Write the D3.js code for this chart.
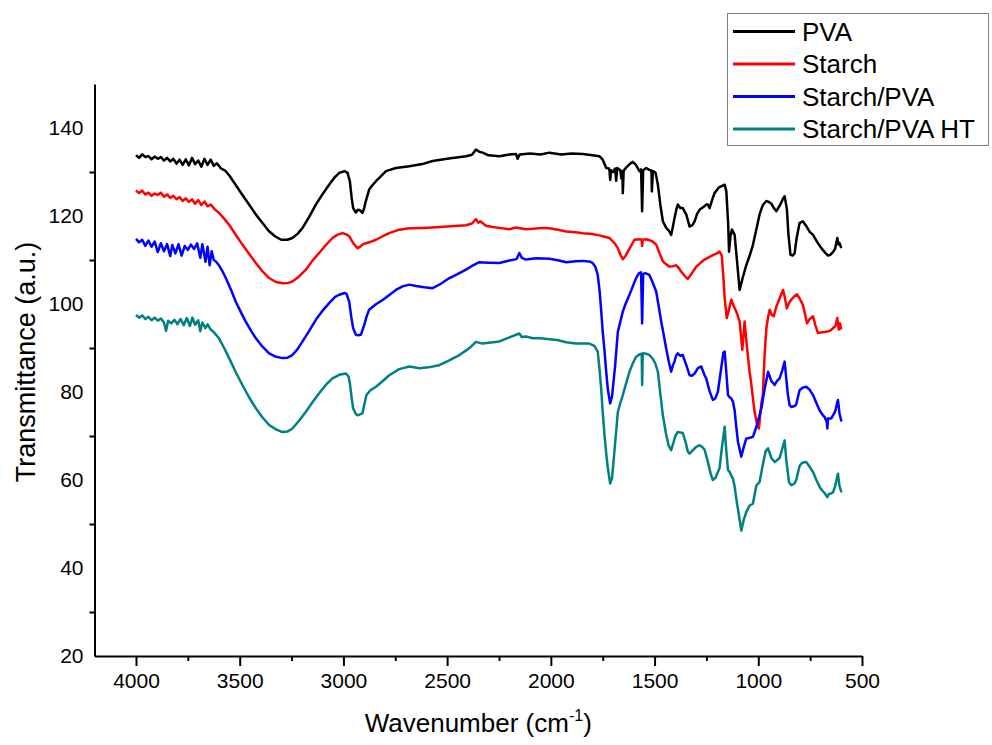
<!DOCTYPE html>
<html>
<head>
<meta charset="utf-8">
<script src="https://cdn.jsdelivr.net/npm/d3@7"></script>
<style>
  html, body { margin: 0; padding: 0; background: #fff; }
  svg { display: block; }
  text { font-family: "Liberation Sans", Arial, sans-serif; fill: #000; }
</style>
</head>
<body>
<svg id="chart" width="992" height="745"></svg>
<script>
// ---------------- DATA ----------------
const seriesNames = ["PVA", "Starch", "Starch/PVA", "Starch/PVA HT"];
const seriesColors = ["#000000", "#ff0000", "#0000ff", "#008080"];
const xMajorTicks = [4000, 3500, 3000, 2500, 2000, 1500, 1000, 500];
const xMinorTicks = [3750, 3250, 2750, 2250, 1750, 1250, 750];
const yLabelTicks = [20, 40, 60, 80, 100, 120, 140];
const yMinorTicks = [30, 50, 70, 90, 110, 130];

// [wavenumber (cm-1), transmittance (a.u.)]
const pva = [
[4000,133.8],[3985,133.2],[3970,134.0],[3955,133.4],[3940,133.6],[3925,132.9],[3910,133.5],[3895,133.0],
[3880,133.4],[3865,132.6],[3850,133.2],[3835,132.4],[3820,133.0],[3805,131.9],[3790,132.8],[3775,131.6],
[3760,132.9],[3745,131.5],[3730,133.2],[3715,131.8],[3700,132.6],[3685,131.2],[3670,133.0],[3655,131.6],
[3640,132.8],[3625,131.4],[3610,132.0],[3590,130.8],[3570,130.3],[3550,129.2],[3520,127.1],[3490,125.0],
[3455,122.6],[3420,120.2],[3390,118.4],[3360,116.6],[3330,115.4],[3300,114.6],[3270,114.6],[3246,115.0],
[3220,116.0],[3197,117.3],[3165,119.8],[3133,122.6],[3100,125.0],[3069,127.1],[3040,128.9],[3020,129.8],
[2995,130.2],[2980,129.8],[2969,127.9],[2960,124.0],[2953,121.8],[2940,120.8],[2930,121.4],[2920,121.3],
[2908,120.7],[2900,121.8],[2892,123.4],[2876,126.0],[2860,127.0],[2843,127.9],[2820,129.0],[2795,130.2],
[2747,130.9],[2682,131.3],[2620,131.8],[2570,132.5],[2500,133.0],[2409,133.6],[2380,133.9],[2361,135.1],
[2345,134.6],[2329,134.4],[2300,133.8],[2248,133.6],[2200,134.0],[2168,134.1],[2160,133.0],[2150,134.0],
[2100,134.2],[2050,134.0],[2007,134.4],[1950,134.0],[1900,134.2],[1846,134.1],[1800,133.8],[1766,133.6],
[1750,132.8],[1733,130.9],[1720,130.8],[1717,130.2],[1714,128.2],[1710,130.4],[1700,130.0],[1690,130.8],
[1685,128.0],[1680,130.9],[1665,130.4],[1660,128.5],[1655,130.2],[1653,125.2],[1649,130.3],[1637,131.0],
[1620,131.8],[1605,132.3],[1590,131.6],[1573,130.2],[1565,130.6],[1560,121.1],[1555,130.4],[1540,130.9],
[1525,130.5],[1515,130.3],[1513,125.6],[1508,130.2],[1495,129.8],[1484,127.1],[1472,122.5],[1460,118.8],
[1444,117.3],[1430,116.6],[1420,115.7],[1412,117.5],[1404,119.5],[1395,121.5],[1388,122.6],[1376,121.8],
[1364,121.8],[1347,120.3],[1331,117.6],[1318,117.9],[1307,118.8],[1295,120.5],[1283,121.4],[1260,122.2],
[1251,122.6],[1243,122.6],[1235,121.8],[1220,124.0],[1211,125.2],[1190,126.5],[1162,127.1],[1154,125.6],
[1145,118.0],[1141,111.9],[1134,115.5],[1127,116.9],[1114,115.7],[1103,110.0],[1090,103.2],[1075,106.0],
[1058,108.8],[1040,111.2],[1026,113.4],[1010,116.8],[994,120.3],[978,122.5],[961,123.4],[950,123.2],
[937,122.8],[925,121.8],[913,121.1],[895,122.5],[880,124.0],[873,124.5],[862,121.5],[855,116.0],
[845,111.2],[835,111.0],[825,111.5],[815,115.0],[801,118.4],[785,118.8],[770,117.8],[752,116.4],
[736,115.7],[715,114.0],[696,112.7],[680,111.8],[664,111.0],[652,111.2],[640,111.8],[630,112.5],
[619,115.0],[613,113.5],[608,113.8],[600,112.7]
];

const starch = [
[4000,125.8],[3985,125.2],[3970,125.8],[3955,124.9],[3940,125.3],[3925,124.6],[3910,125.1],[3895,124.8],
[3880,125.3],[3865,124.4],[3850,124.9],[3835,124.1],[3820,124.6],[3805,123.8],[3790,124.3],[3775,123.4],
[3760,124.0],[3745,123.2],[3730,123.8],[3715,122.8],[3700,123.6],[3685,122.5],[3670,123.3],[3655,122.2],
[3640,122.6],[3620,121.5],[3600,120.7],[3575,119.4],[3551,118.0],[3520,115.8],[3487,113.5],[3455,111.4],
[3422,109.3],[3390,107.4],[3358,105.9],[3325,105.0],[3294,104.7],[3265,104.8],[3246,105.1],[3215,106.2],
[3181,107.8],[3150,109.8],[3117,111.6],[3085,113.4],[3053,115.0],[3030,115.7],[3004,116.1],[2985,115.8],
[2972,115.4],[2955,114.0],[2940,113.1],[2932,112.7],[2920,113.0],[2905,113.6],[2892,113.8],[2870,114.1],
[2843,114.6],[2810,115.4],[2779,116.1],[2731,116.9],[2682,117.2],[2620,117.3],[2570,117.4],[2500,117.6],
[2409,117.9],[2380,118.3],[2361,119.3],[2350,118.5],[2340,118.8],[2313,117.8],[2280,117.5],[2248,117.3],
[2200,117.0],[2168,117.4],[2120,117.0],[2087,117.1],[2040,117.3],[2007,117.2],[1960,116.8],[1926,116.5],
[1880,116.3],[1846,116.1],[1800,115.9],[1766,115.6],[1740,115.3],[1717,115.0],[1701,114.2],[1690,113.6],
[1677,112.7],[1665,111.2],[1653,110.2],[1640,110.9],[1629,111.9],[1610,113.5],[1597,114.6],[1570,114.7],
[1562,114.6],[1560,113.2],[1557,114.6],[1540,114.7],[1525,114.5],[1510,114.2],[1492,113.5],[1476,111.5],
[1460,109.7],[1444,109.0],[1428,108.5],[1410,108.6],[1396,108.8],[1385,108.3],[1372,107.4],[1355,106.4],
[1340,105.7],[1320,107.0],[1299,108.5],[1280,109.3],[1259,110.1],[1243,110.5],[1219,111.1],[1200,111.5],
[1187,111.9],[1176,111.0],[1168,106.0],[1162,101.3],[1152,96.8],[1140,99.0],[1130,101.0],[1118,99.5],
[1106,98.3],[1090,96.0],[1077,89.6],[1066,96.0],[1054,89.9],[1042,84.6],[1035,82.3],[1018,75.5],
[1005,72.5],[997,71.7],[985,77.5],[978,79.3],[970,88.0],[961,94.5],[953,97.0],[945,98.7],
[935,97.5],[926,97.2],[912,99.5],[897,101.3],[881,103.2],[872,101.5],[862,99.0],[852,100.2],
[841,101.0],[825,101.8],[813,102.2],[800,101.2],[785,99.8],[775,97.8],[765,95.6],[752,96.6],
[736,97.2],[725,95.2],[712,93.4],[690,93.6],[671,93.7],[655,93.9],[640,94.5],[628,95.0],
[619,96.8],[612,94.2],[606,95.6],[600,94.2]
];

const starchPva = [
[4000,114.8],[3985,114.0],[3970,114.6],[3955,113.2],[3940,114.4],[3925,113.0],[3910,114.2],[3895,111.8],
[3880,113.8],[3865,112.0],[3850,113.6],[3835,110.9],[3825,113.4],[3810,111.5],[3795,113.6],[3780,111.0],
[3765,113.2],[3750,112.3],[3735,113.5],[3720,112.5],[3705,113.8],[3690,110.5],[3680,113.6],[3665,109.6],
[3655,113.0],[3645,108.8],[3635,112.0],[3625,110.0],[3616,109.7],[3600,108.8],[3585,107.6],[3567,105.9],
[3540,103.0],[3519,100.5],[3495,98.2],[3471,96.0],[3445,93.9],[3422,92.2],[3390,90.3],[3358,88.8],
[3325,88.0],[3294,87.7],[3270,87.8],[3246,88.4],[3220,89.8],[3197,91.5],[3165,93.9],[3133,96.4],
[3100,98.5],[3069,100.2],[3040,101.6],[3020,102.1],[2995,102.5],[2985,102.3],[2972,100.5],[2962,97.0],
[2953,94.5],[2940,93.0],[2928,92.9],[2916,93.0],[2900,95.2],[2888,97.2],[2876,98.7],[2845,99.9],
[2811,100.9],[2780,102.0],[2747,103.2],[2715,104.0],[2682,104.4],[2650,104.1],[2610,103.8],[2570,103.6],
[2530,104.6],[2489,105.9],[2450,106.8],[2409,107.8],[2375,108.8],[2345,109.5],[2300,109.4],[2248,109.3],
[2200,109.9],[2165,110.2],[2152,111.6],[2140,110.5],[2120,110.1],[2070,110.4],[2007,110.3],[1960,109.9],
[1926,109.5],[1880,109.7],[1846,109.8],[1810,109.6],[1798,109.3],[1785,108.4],[1774,106.6],[1765,103.0],
[1757,98.3],[1750,93.7],[1741,89.2],[1733,84.5],[1725,80.5],[1714,77.4],[1705,79.0],[1698,82.3],
[1690,86.0],[1677,93.7],[1669,95.2],[1653,98.3],[1640,100.0],[1621,102.1],[1605,104.0],[1589,105.9],
[1575,107.0],[1565,107.2],[1560,95.6],[1555,106.8],[1545,107.0],[1525,106.6],[1510,105.0],[1492,102.8],
[1480,99.5],[1468,96.0],[1456,93.0],[1444,89.9],[1432,87.0],[1420,84.6],[1412,86.0],[1404,86.9],
[1396,88.3],[1388,88.8],[1376,88.2],[1364,88.4],[1347,86.1],[1331,83.8],[1320,83.7],[1307,84.2],
[1290,85.5],[1275,85.8],[1259,83.8],[1251,83.1],[1235,80.2],[1219,78.2],[1207,78.6],[1195,80.0],
[1180,85.0],[1168,89.0],[1162,89.2],[1155,85.0],[1146,79.3],[1138,78.8],[1130,78.5],[1122,77.8],
[1114,75.8],[1106,72.0],[1098,68.7],[1082,65.3],[1070,67.5],[1058,69.4],[1040,69.6],[1026,69.8],
[1009,72.1],[995,74.5],[985,76.3],[970,80.5],[953,84.6],[937,82.5],[921,81.6],[910,82.5],
[897,83.1],[885,84.8],[873,86.9],[865,83.0],[857,79.3],[849,77.0],[841,76.6],[825,76.8],
[817,77.2],[801,80.4],[785,81.0],[769,81.2],[752,80.5],[736,79.3],[720,77.5],[704,75.8],
[690,74.8],[680,74.3],[670,73.2],[667,71.7],[664,74.0],[648,74.0],[630,75.5],[616,78.2],
[608,75.0],[599,73.3]
];

const starchPvaHT = [
[4000,97.5],[3985,96.9],[3970,97.4],[3955,96.6],[3940,97.1],[3925,96.3],[3910,96.9],[3895,96.2],
[3880,96.7],[3865,95.8],[3855,93.9],[3845,96.2],[3830,95.6],[3815,96.4],[3800,95.4],[3785,96.6],
[3770,95.2],[3755,96.8],[3740,95.0],[3728,96.9],[3715,95.3],[3700,96.3],[3690,93.8],[3680,95.8],
[3665,94.5],[3655,95.4],[3640,94.2],[3625,93.6],[3600,92.2],[3575,90.0],[3551,87.7],[3520,84.6],
[3487,81.6],[3455,78.8],[3422,76.3],[3390,74.2],[3358,72.5],[3325,71.5],[3294,70.9],[3270,71.0],
[3246,71.7],[3215,73.4],[3181,75.5],[3150,77.6],[3117,79.7],[3085,81.6],[3053,83.1],[3020,83.9],
[2988,84.2],[2975,83.5],[2969,82.0],[2960,78.5],[2953,76.3],[2940,75.0],[2932,74.7],[2920,74.9],
[2908,75.2],[2900,77.0],[2889,79.3],[2870,80.4],[2843,81.2],[2810,82.5],[2779,83.8],[2731,85.2],
[2682,85.8],[2634,85.4],[2590,85.6],[2538,86.1],[2490,87.2],[2441,88.4],[2410,89.4],[2385,90.3],
[2361,91.4],[2330,91.0],[2300,91.2],[2248,91.5],[2200,92.4],[2152,93.3],[2140,92.5],[2120,92.6],
[2087,92.2],[2050,92.2],[2007,92.0],[1970,91.8],[1926,91.3],[1880,91.0],[1814,91.0],[1790,90.5],
[1774,89.2],[1765,85.0],[1757,80.5],[1750,75.5],[1741,70.0],[1733,66.0],[1725,62.6],[1714,59.2],
[1705,60.5],[1698,64.1],[1688,69.5],[1677,75.5],[1665,77.5],[1653,79.3],[1640,81.5],[1621,84.6],
[1605,86.5],[1589,88.0],[1570,88.6],[1562,88.7],[1560,81.6],[1557,88.8],[1540,88.7],[1525,88.4],
[1508,87.5],[1495,86.3],[1484,84.6],[1472,79.5],[1460,74.7],[1445,70.5],[1432,67.8],[1420,66.8],
[1410,68.3],[1400,70.0],[1388,70.9],[1376,70.8],[1364,70.7],[1350,68.5],[1340,66.5],[1331,66.0],
[1315,66.8],[1300,67.5],[1283,67.9],[1270,67.5],[1259,66.9],[1245,64.5],[1230,61.5],[1219,60.0],
[1205,60.6],[1195,61.8],[1187,62.6],[1175,67.5],[1162,72.1],[1155,67.0],[1146,62.3],[1138,61.8],
[1130,61.0],[1122,60.3],[1114,58.5],[1106,55.8],[1095,52.5],[1082,48.5],[1070,51.0],[1058,52.7],
[1042,54.2],[1026,54.6],[1009,58.8],[994,59.5],[980,63.0],[965,66.5],[953,67.2],[937,65.0],
[921,64.1],[910,64.5],[897,65.0],[885,67.0],[873,69.0],[865,64.5],[852,59.5],[840,58.8],
[825,59.2],[817,60.0],[801,63.2],[793,63.7],[785,64.0],[769,64.1],[752,63.0],[736,61.8],
[720,60.0],[704,58.4],[690,57.5],[680,57.0],[667,56.1],[660,56.8],[648,57.0],[640,57.2],
[630,58.5],[616,61.4],[608,58.5],[599,57.2]
];

const seriesData = [pva, starch, starchPva, starchPvaHT];

// ---------------- DRAW ----------------
const svg = d3.select("#chart");
const plotLeft = 94.5, plotRight = 862, plotTop = 84, plotBottom = 656;

const x = d3.scaleLinear().domain([4200, 500]).range([plotLeft, plotRight]);
const y = d3.scaleLinear().domain([20, 150]).range([plotBottom, plotTop]);

const line = d3.line().x(d => x(d[0])).y(d => y(d[1]));

// curves
const curves = svg.append("g");
seriesData.forEach((s, i) => {
  curves.append("path")
    .datum(s)
    .attr("d", line)
    .attr("fill", "none")
    .attr("stroke", seriesColors[i])
    .attr("stroke-width", 2.5)
    .attr("stroke-linejoin", "round");
});

// x axis
const xAxisG = svg.append("g").attr("transform", `translate(0,${plotBottom})`);
xAxisG.call(d3.axisBottom(x).tickValues(xMajorTicks).tickSize(10).tickSizeOuter(0).tickPadding(6)
  .tickFormat(d3.format("d")));
const xMinorG = svg.append("g").attr("transform", `translate(0,${plotBottom})`);
xMinorG.call(d3.axisBottom(x).tickValues(xMinorTicks).tickSize(5).tickSizeOuter(0).tickFormat(""));
xMinorG.select(".domain").remove();

// y axis
const yAxisG = svg.append("g").attr("transform", `translate(${plotLeft},0)`);
yAxisG.call(d3.axisLeft(y).tickValues(yLabelTicks).tickSize(0).tickSizeOuter(0).tickPadding(11)
  .tickFormat(d3.format("d")));
const yMinorG = svg.append("g").attr("transform", `translate(${plotLeft},0)`);
yMinorG.call(d3.axisLeft(y).tickValues(yMinorTicks).tickSize(5).tickSizeOuter(0).tickFormat(""));
yMinorG.select(".domain").remove();

svg.selectAll(".domain").attr("stroke", "#000").attr("stroke-width", 2);
svg.selectAll(".tick line").attr("stroke", "#000").attr("stroke-width", 2);
svg.selectAll(".tick text")
  .attr("font-family", "'Liberation Sans', Arial, sans-serif")
  .attr("font-size", 21)
  .attr("fill", "#000");
xAxisG.selectAll(".tick text").attr("dy", "0.71em").attr("y", 17);

// axis titles
svg.append("text")
  .attr("x", (plotLeft + plotRight) / 2)
  .attr("y", 732)
  .attr("text-anchor", "middle")
  .attr("font-size", 26)
  .call(t => {
    t.append("tspan").text("Wavenumber (cm");
    t.append("tspan").attr("font-size", 16).attr("dy", -11).text("-1");
    t.append("tspan").attr("dy", 11).text(")");
  });

svg.append("text")
  .attr("transform", `translate(35,362) rotate(-90)`)
  .attr("text-anchor", "middle")
  .attr("font-size", 27)
  .text("Transmittance (a.u.)");

// legend
const legend = svg.append("g");
legend.append("rect")
  .attr("x", 727.5).attr("y", 13.5).attr("width", 261).attr("height", 132)
  .attr("fill", "#fff").attr("stroke", "#7f7f7f").attr("stroke-width", 1);
const rowY = [31.5, 64, 96.5, 129];
seriesNames.forEach((name, i) => {
  legend.append("line")
    .attr("x1", 733).attr("x2", 795).attr("y1", rowY[i]).attr("y2", rowY[i])
    .attr("stroke", seriesColors[i]).attr("stroke-width", 3);
  legend.append("text")
    .attr("x", 802).attr("y", rowY[i] + 9)
    .attr("font-size", 26)
    .text(name);
});
</script>
</body>
</html>
